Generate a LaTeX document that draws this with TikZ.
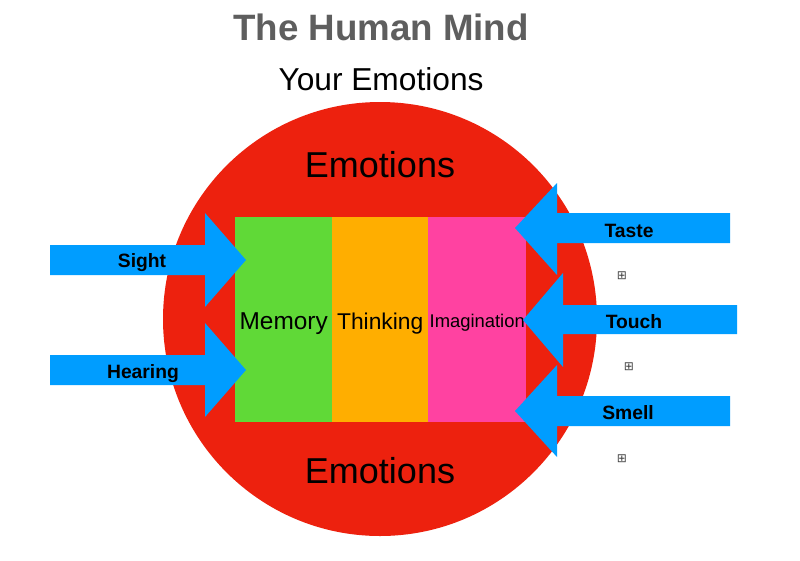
\documentclass[tikz,border=0pt]{standalone}
\usepackage{fontspec}
\setmainfont{Liberation Sans}
\newfontfamily\symfont{DejaVu Sans}
\definecolor{mindred}{RGB}{237,33,14}
\definecolor{memgreen}{RGB}{96,217,55}
\definecolor{thinkorange}{RGB}{255,174,0}
\definecolor{imagpink}{RGB}{255,66,161}
\definecolor{senseblue}{RGB}{0,157,255}
\definecolor{titlegray}{RGB}{94,94,94}
\tikzset{
  sense/.style={fill=senseblue, draw=none},
  senselabel/.style={font=\fontsize{19.3}{22}\selectfont\bfseries, inner sep=0pt},
  part/.style={draw=none, minimum width=97pt, minimum height=205pt, inner sep=0pt},
  marker/.style={font=\symfont\fontsize{12}{12}\selectfont, text=black!75, inner sep=0pt}
}
\begin{document}
\begin{tikzpicture}[x=1pt, y=-1pt]
    \useasboundingbox[fill=white] (0,0) rectangle (800,560);

    \node[text=titlegray, font=\fontsize{36.7}{40}\selectfont\bfseries] (title) at (381,27) {The Human Mind};
    \node[font=\fontsize{31.7}{36}\selectfont] (subtitle) at (381,79) {Your Emotions};

    \fill[mindred] (380,319) circle[radius=217];
    \node[font=\fontsize{36}{40}\selectfont] (emotop) at (380,165) {Emotions};
    \node[font=\fontsize{36}{40}\selectfont] (emobot) at (380,471) {Emotions};

    \node[part, fill=memgreen, anchor=north west] (memory) at (235,217) {};
    \node[part, fill=thinkorange, anchor=north west, minimum width=96pt] (thinking) at (332,217) {};
    \node[part, fill=imagpink, anchor=north west, minimum width=98pt] (imagination) at (428,217) {};
    \node[font=\fontsize{24.4}{28}\selectfont, yshift=-4pt] at (memory.center) {Memory};
    \node[font=\fontsize{22.8}{26}\selectfont, yshift=-4pt] at (thinking.center) {Thinking};
    \node[font=\fontsize{18.4}{22}\selectfont, yshift=-3pt] at (imagination.center) {Imagination};

    % senses coming in from the left
    \fill[sense] (50,245) -- (205,245) -- (205,213) -- (246,260) -- (205,307) -- (205,275) -- (50,275) -- cycle;
    \fill[sense] (50,355) -- (205,355) -- (205,323) -- (246,370) -- (205,417) -- (205,385) -- (50,385) -- cycle;
    \node[senselabel] (sight) at (142,263) {Sight};
    \node[senselabel] (hearing) at (143,374) {Hearing};

    % senses coming in from the right
    \fill[sense] (730,213) -- (557,213) -- (557,183) -- (515,228) -- (557,275) -- (557,243) -- (730,243) -- cycle;
    \fill[sense] (737,305) -- (563,305) -- (563,273) -- (523,320) -- (563,367) -- (563,334) -- (737,334) -- cycle;
    \fill[sense] (730,396) -- (557,396) -- (557,365) -- (515,411) -- (557,457) -- (557,426) -- (730,426) -- cycle;
    \node[senselabel] (taste) at (629,231) {Taste};
    \node[senselabel] (touch) at (634,322) {Touch};
    \node[senselabel] (smell) at (628,413) {Smell};

    \node[marker] (mark1) at (622,276) {⊞};
    \node[marker] (mark2) at (629,367) {⊞};
    \node[marker] (mark3) at (622,459) {⊞};
  \end{tikzpicture}
\end{document}
